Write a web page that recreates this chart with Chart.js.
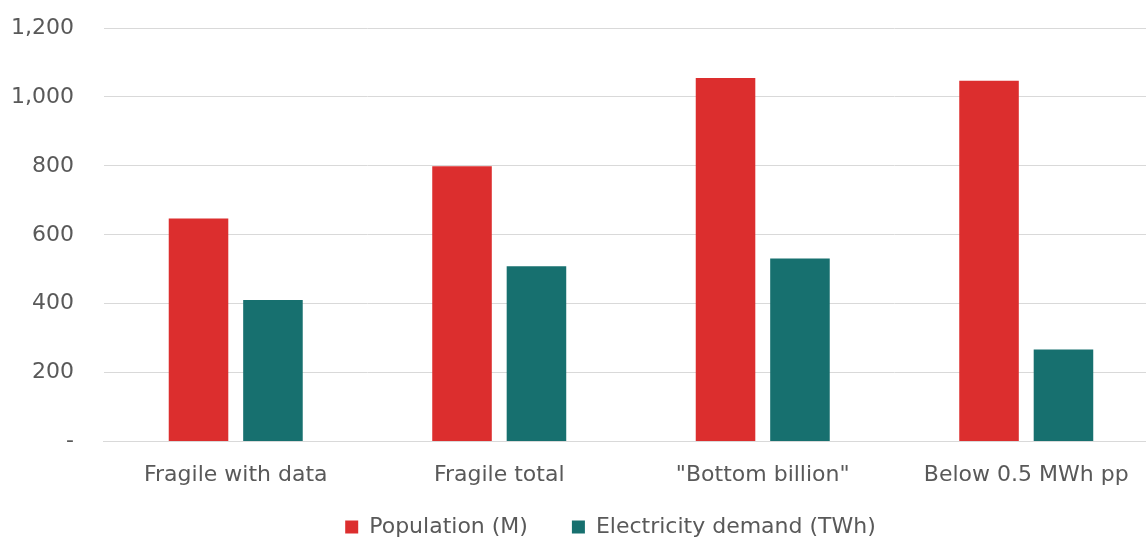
<!DOCTYPE html>
<html>
<head>
<meta charset="utf-8">
<script src="https://cdn.jsdelivr.net/npm/chart.js@4/dist/chart.umd.min.js"></script>
<style>
html,body{margin:0;padding:0;overflow:hidden;background:#fff;}
#wrap{width:1194px;height:537px;position:relative;}
</style>
</head>
<body>
<div id="wrap"><canvas id="c"></canvas></div>
<script>
const categories = ['Fragile with data', 'Fragile total', '"Bottom billion"', 'Below 0.5 MWh pp'];
const population = [647, 799, 1055, 1047];
const electricity = [411, 509, 531, 267];
const seriesNames = ['Population (M)', 'Electricity demand (TWh)'];
const yTicks = [0, 200, 400, 600, 800, 1000, 1200];

const FONT = "'DejaVu Sans', sans-serif";
const TXT = '#595959';

const shiftLegend = {
  id: 'shiftLegend',
  afterLayout(chart) {
    if (chart.legend) { chart.legend.left += 27; chart.legend.right += 27; }
  }
};

new Chart(document.getElementById('c'), {
  type: 'bar',
  data: {
    labels: categories,
    datasets: [
      { label: seriesNames[0], data: population, backgroundColor: '#DC2E2E', borderWidth: 0 },
      { label: seriesNames[1], data: electricity, backgroundColor: '#17706F', borderWidth: 0 }
    ]
  },
  plugins: [shiftLegend],
  options: {
    responsive: true,
    maintainAspectRatio: false,
    animation: false,
    layout: { padding: { top: 28, left: 9, right: 36, bottom: -11 } },
    datasets: { bar: { categoryPercentage: 0.565, barPercentage: 0.8 } },
    scales: {
      x: {
        grid: { display: false },
        border: { display: true, color: '#d9d9d9', width: 1 },
        ticks: { color: TXT, font: { family: FONT, size: 22 }, padding: 12 }
      },
      y: {
        min: 0, max: 1200,
        afterBuildTicks: (ax) => { ax.ticks = yTicks.map(v => ({ value: v })); },
        grid: { color: '#d9d9d9', lineWidth: 1, drawTicks: true, tickLength: 28, tickColor: 'rgba(0,0,0,0)' },
        border: { display: false },
        ticks: {
          color: TXT, font: { family: FONT, size: 22 }, padding: 2,
          callback: (v) => v === 0 ? '-' : v.toLocaleString('en-US')
        }
      }
    },
    plugins: {
      legend: {
        position: 'bottom',
        labels: {
          color: TXT, font: { family: FONT, size: 22 }, boxWidth: 13, boxHeight: 13, padding: 16,
          generateLabels: (chart) => {
            const items = Chart.defaults.plugins.legend.labels.generateLabels(chart);
            items.forEach((it, i) => { if (i < items.length - 1) it.text = it.text + '    '; });
            return items;
          }
        }
      },
      tooltip: { enabled: false }
    }
  }
});
</script>
</body>
</html>
